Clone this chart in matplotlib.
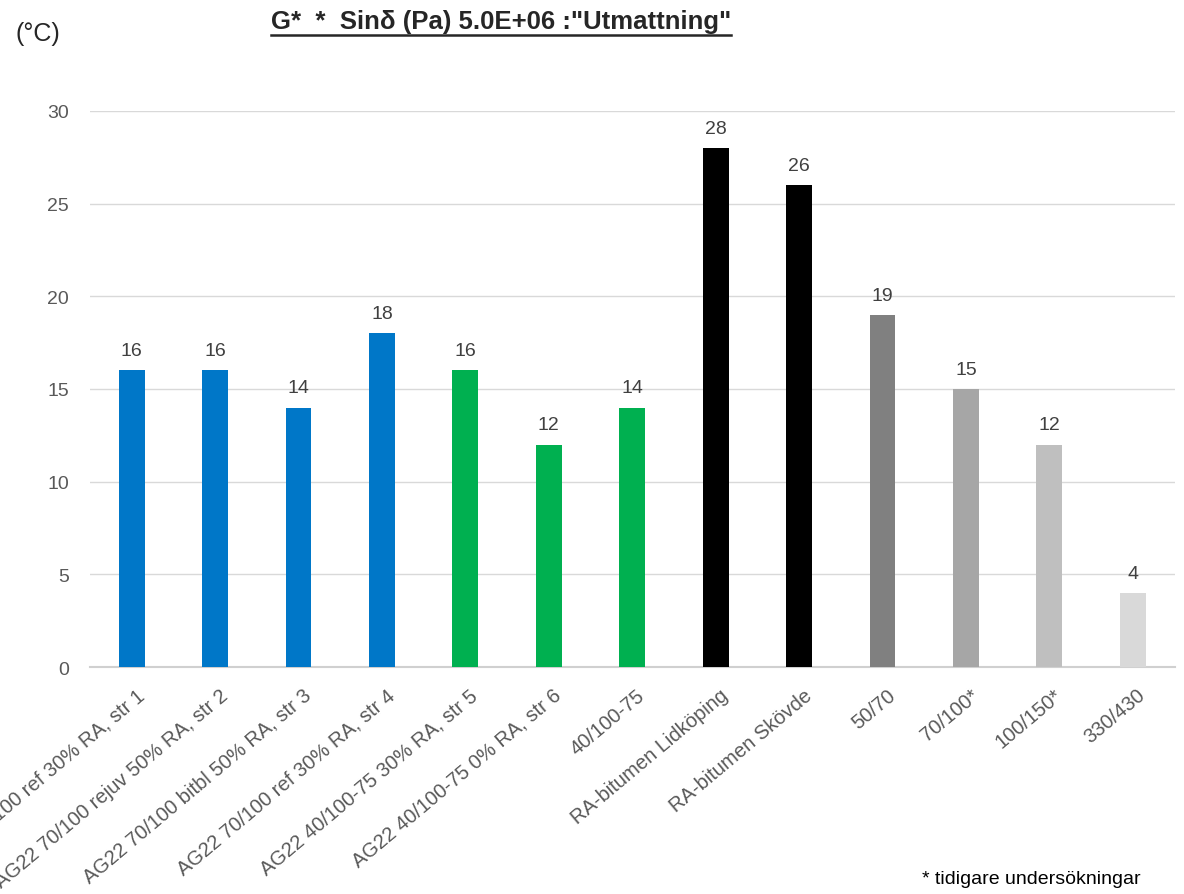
import numpy as np
import matplotlib.pyplot as plt
import matplotlib
from matplotlib.lines import Line2D
from matplotlib.transforms import ScaledTranslation

matplotlib.rcParams['font.family'] = ['Liberation Sans', 'DejaVu Sans']

labels = ['AG22 70/100 ref 30% RA, str 1', 'AG22 70/100 rejuv 50% RA, str 2',
          'AG22 70/100 bitbl 50% RA, str 3', 'AG22 70/100 ref 30% RA, str 4',
          'AG22 40/100-75 30% RA, str 5', 'AG22 40/100-75 0% RA, str 6',
          '40/100-75', 'RA-bitumen Lidköping', 'RA-bitumen Skövde',
          '50/70', '70/100*', '100/150*', '330/430']
values = [16, 16, 14, 18, 16, 12, 14, 28, 26, 19, 15, 12, 4]
colors = ['#0077C8'] * 4 + ['#00B050'] * 3 + ['#000000'] * 2 + \
         ['#808080', '#A6A6A6', '#BFBFBF', '#D9D9D9']

fig = plt.figure(figsize=(11.84, 8.95), dpi=100)
ax = fig.add_axes([0.076, 0.2536, 0.916, 0.6213])

x = np.arange(len(values))
ax.bar(x, values, width=0.31, color=colors, zorder=3)
for xi, v in zip(x, values):
    ax.text(xi, v + 0.6, str(v), ha='center', va='bottom', fontsize=14, color='#404040')

ax.set_xlim(-0.5, len(values) - 0.5)
ax.set_ylim(0, 30)
ax.set_yticks(range(0, 31, 5))
ax.yaxis.grid(True, color='#D9D9D9', lw=1, zorder=0)
for s in ['top', 'right', 'left']:
    ax.spines[s].set_visible(False)
ax.spines['bottom'].set_color('#D0D0D0')
ax.spines['bottom'].set_linewidth(1.5)
ax.tick_params(axis='y', length=0, labelsize=14, labelcolor='#595959', pad=15)
ax.tick_params(axis='x', length=0, labelsize=14.5, labelcolor='#595959', pad=13)
ax.set_xticks(x)
ax.set_xticklabels(labels, rotation=40, ha='right', va='top', rotation_mode='anchor')
shift = ScaledTranslation(4 / 100, 0, fig.dpi_scale_trans)
for t in ax.get_xticklabels():
    t.set_transform(t.get_transform() + shift)

fig.text(0.013, 0.962, '(°C)', fontsize=18, color='#262626', ha='left', va='center')

title = fig.text(0.423, 0.975, 'G*  *  Sinδ (Pa) 5.0E+06 :"Utmattning"',
                 fontsize=18.5, fontweight='bold', color='#262626', ha='center', va='center')
fig.canvas.draw()
bb = title.get_window_extent().transformed(fig.transFigure.inverted())
fig.add_artist(Line2D([bb.x0, bb.x1], [bb.y0 - 0.002, bb.y0 - 0.002], color='#262626', lw=1.8))

fig.text(0.963, 0.017, '* tidigare undersökningar', fontsize=14, color='#000000',
         ha='right', va='center')

fig.savefig('out.png', dpi=100, facecolor='white')
